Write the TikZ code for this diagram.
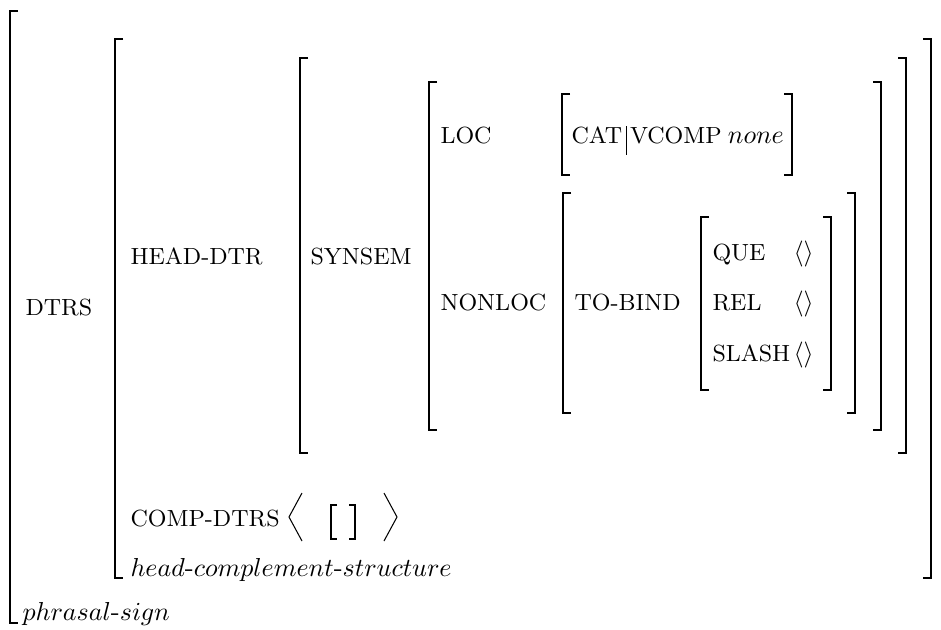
\documentclass[tikz,border=0pt]{standalone}
\usepackage{tikz}
\usetikzlibrary{positioning}

\tikzset{
  feat/.style={anchor=base west, inner sep=0pt, font=\small},
  val/.style={anchor=base west, inner sep=0pt},
  typ/.style={anchor=base west, inner sep=0pt, font=\fontsize{10.4}{12}\selectfont},
  brk/.style={black, line width=0.75pt},
  ang/.style={black, line width=0.4pt},
}

\begin{document}
\begin{tikzpicture}[x=0.385pt,y=-0.385pt]
\useasboundingbox (0,0) rectangle (941,629);

% brackets phrasal-sign
\draw[brk] (18,11) -- (10,11) -- (10,623) -- (18,623);

% brackets dtrs
\draw[brk] (123,39) -- (115,39) -- (115,578) -- (123,578);
\draw[brk] (923,39) -- (931,39) -- (931,578) -- (923,578);

% brackets head-dtr
\draw[brk] (308,58) -- (300,58) -- (300,453) -- (308,453);
\draw[brk] (898,58) -- (906,58) -- (906,453) -- (898,453);

% brackets synsem
\draw[brk] (437,82) -- (429,82) -- (429,430) -- (437,430);
\draw[brk] (873,82) -- (881,82) -- (881,430) -- (873,430);

% brackets loc
\draw[brk] (570,94) -- (562,94) -- (562,175) -- (570,175);
\draw[brk] (784,94) -- (792,94) -- (792,175) -- (784,175);

% brackets nonloc
\draw[brk] (571,193) -- (563,193) -- (563,413) -- (571,413);
\draw[brk] (847,193) -- (855,193) -- (855,413) -- (847,413);

% brackets to-bind
\draw[brk] (709,217) -- (701,217) -- (701,390) -- (709,390);
\draw[brk] (823,217) -- (831,217) -- (831,390) -- (823,390);

% labels
\node[feat] (dtrs) at(25,315) {DTRS};
\node[feat] (headdtr) at(130,264) {HEAD-DTR};
\node[feat] (synsem) at(310,264) {SYNSEM};
\node[feat] (loc) at(440,143) {LOC};
\node[feat] (nonloc) at(440,310) {NONLOC};

\node[feat] (cat) at(571,143) {CAT};
\coordinate[right=1.6pt of cat.base east] (bar);
\draw[ang] (bar) ++(0,-17) -- ++(0,29);
\node[feat, base right=1pt of bar] (vcomp) {VCOMP};
\node[val, base right=2pt of vcomp] (none) {$none$};

\node[feat] (tobind) at(574,310) {TO-BIND};
\node[feat] (que) at(712,260) {QUE};
\node[feat] (rel) at(712,310) {REL};
\node[feat] (slash) at(712,361) {SLASH};
\node[val] (queval) at(793,260) {$\langle\rangle$};
\node[val] (relval) at(793,310) {$\langle\rangle$};
\node[val] (slashval) at(793,361) {$\langle\rangle$};

% comp-dtrs
\node[feat] (compdtrs) at(130,526) {COMP-DTRS};
\draw[ang] (302,493) -- (289,517) -- (302,541);
\draw[brk] (337,505) -- (331,505) -- (331,539) -- (337,539);
\draw[brk] (349,505) -- (355,505) -- (355,539) -- (349,539);
\draw[ang] (384,493) -- (397,517) -- (384,541);

% types
\node[typ] (hcs) at(130,576) {$head$-$complement$-$structure$};
\node[typ] (phs) at(22,620) {$phrasal$-$sign$};

\end{tikzpicture}
\end{document}
